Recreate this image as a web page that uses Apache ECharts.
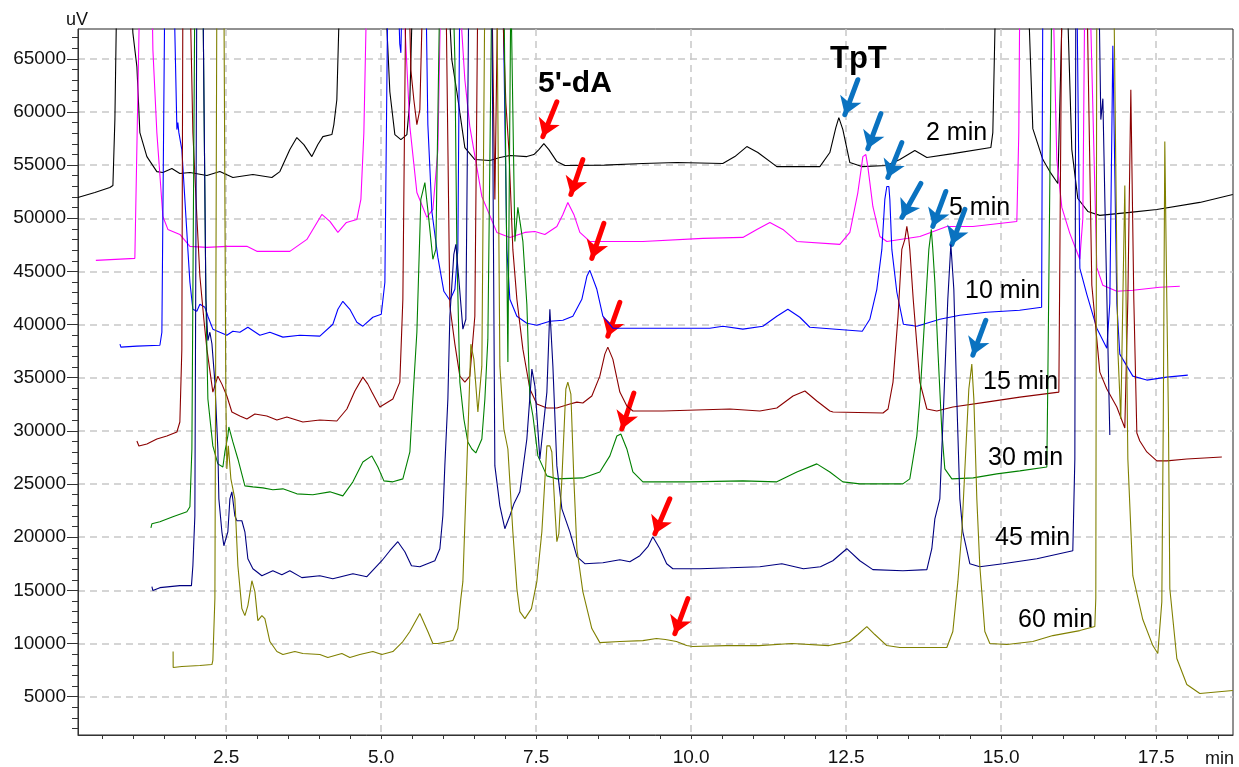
<!DOCTYPE html>
<html>
<head>
<meta charset="utf-8">
<script src="https://cdn.jsdelivr.net/npm/echarts@6/dist/echarts.min.js"></script>
<style>
  html, body { margin: 0; padding: 0; background: #ffffff; }
  #chart { width: 1239px; height: 767px; }
</style>
</head>
<body>
<div id="chart"></div>
<script>
// Stacked HPLC chromatograms (uV vs retention time in min), one trace per reaction time.
// Points above the plotted range are given as OFF and get clipped at the top border.
const OFF = 72000;

const xRange = [0.11, 18.74];
const yRange = [1400, 67800];

const xTickLabels = [2.5, 5, 7.5, 10, 12.5, 15, 17.5];
const xMinorTicks = [0.5, 1, 1.5, 2, 2.5, 3, 3.5, 4, 4.5, 5, 5.5, 6, 6.5, 7, 7.5, 8, 8.5, 9, 9.5,
  10, 10.5, 11, 11.5, 12, 12.5, 13, 13.5, 14, 14.5, 15, 15.5, 16, 16.5, 17, 17.5, 18, 18.5];
const yTickLabels = [5000, 10000, 15000, 20000, 25000, 30000, 35000, 40000, 45000, 50000, 55000, 60000, 65000];
const yMinorTicks = [2000, 3000, 4000, 5000, 6000, 7000, 8000, 9000, 10000, 11000, 12000, 13000, 14000,
  15000, 16000, 17000, 18000, 19000, 20000, 21000, 22000, 23000, 24000, 25000, 26000, 27000, 28000,
  29000, 30000, 31000, 32000, 33000, 34000, 35000, 36000, 37000, 38000, 39000, 40000, 41000, 42000,
  43000, 44000, 45000, 46000, 47000, 48000, 49000, 50000, 51000, 52000, 53000, 54000, 55000, 56000,
  57000, 58000, 59000, 60000, 61000, 62000, 63000, 64000, 65000, 66000, 67000];

const traceNames = ['2 min', '5 min', '10 min', '15 min', '30 min', '45 min', '60 min'];
const traceColors = ['#000000', '#ff00ff', '#0000ff', '#8b0000', '#008000', '#000080', '#808000'];

const trace2min = [[0.108,51950],[0.382,52420],[0.624,52890],[0.673,53080],[0.705,59280],[0.737,OFF],[0.963,OFF],
  [0.995,67440],[1.06,64250],[1.108,58050],[1.221,55800],[1.382,54390],[1.479,54300],[1.624,54680],[1.753,54210],
  [1.915,54300],[2.189,54020],[2.398,54390],[2.608,53830],[2.931,54110],[3.237,53830],[3.366,54390],[3.527,56460],
  [3.64,57590],[3.753,56930],[3.882,55800],[3.979,56930],[4.06,57680],[4.205,57870],[4.237,58810],[4.285,61150],
  [4.335,OFF],[5.06,OFF],[5.14,61900],[5.221,57870],[5.318,57400],[5.415,57870],[5.463,61150],[5.511,OFF],
  [6.076,OFF],[6.14,64900],[6.221,61900],[6.35,56650],[6.511,55520],[6.753,55430],[6.915,55710],[7.076,55900],
  [7.35,55800],[7.463,55990],[7.544,56460],[7.624,57020],[7.705,56460],[7.834,55330],[7.963,54960],[8.6,55000],
  [9.221,55150],[9.77,55240],[10.51,55150],[10.705,55800],[10.898,56740],[11.076,56180],[11.382,54860],
  [12.076,54860],[12.237,56180],[12.334,58520],[12.382,59460],[12.447,58340],[12.56,55240],[12.753,54860],
  [13.156,54960],[13.366,55520],[13.608,56370],[13.802,55710],[14.221,56080],[14.834,56650],[14.866,58050],
  [14.915,OFF],[15.431,OFF],[15.511,58430],[15.673,55520],[15.785,54390],[15.915,53270],[15.995,OFF],[16.06,OFF],
  [16.14,56460],[16.237,51860],[16.398,50640],[16.592,50270],[17.076,50550],[17.511,50830],[18.205,51490],[18.737,52240]];

const trace5min = [[0.398,46040],[1.027,46230],[1.044,46320],[1.108,OFF],[1.302,OFF],[1.318,65840],[1.382,58050],
  [1.479,50170],[1.56,48950],[1.753,48480],[1.915,47360],[2.189,47260],[2.511,47360],[2.834,47360],[2.995,46890],
  [3.527,46890],[3.802,48010],[4.043,50360],[4.173,49700],[4.302,48670],[4.44,49610],[4.608,49890],[4.673,51770],
  [4.721,58050],[4.769,OFF],[5.35,OFF],[5.463,58620],[5.576,52420],[5.737,50080],[5.834,50830],[5.915,56460],
  [5.963,OFF],[6.253,OFF],[6.35,63030],[6.43,58620],[6.624,52050],[6.866,48670],[7.076,48200],[7.318,48670],
  [7.48,48760],[7.64,48480],[7.834,49230],[7.931,50360],[8.011,51490],[8.108,50360],[8.205,48670],[8.366,47820],
  [9.221,47820],[10.189,48110],[10.834,48200],[11.06,48950],[11.27,49610],[11.48,48950],[11.705,47820],
  [12.398,47540],[12.56,48670],[12.689,52420],[12.77,55800],[12.818,55990],[12.85,54860],[12.931,51110],
  [13.044,48290],[13.156,47820],[13.689,48290],[14.124,49230],[14.544,49230],[15.253,49700],[15.285,58050],
  [15.302,OFF],[15.834,OFF],[15.898,55520],[15.979,51020],[16.108,48580],[16.269,46140],[16.318,50000],
  [16.35,OFF],[16.43,OFF],[16.543,45380],[16.64,43700],[16.866,43130],[17.124,43230],[17.56,43510],[17.882,43600]];

const trace10min = [[0.787,38160],[0.802,37880],[1.06,37970],[1.431,38060],[1.463,39280],[1.511,OFF],[1.656,OFF],
  [1.705,58340],[1.721,58990],[1.737,58050],[1.785,56460],[1.866,48670],[1.882,47070],[1.915,43980],[1.963,41440],
  [2.027,41260],[2.076,41910],[2.157,41630],[2.205,40790],[2.285,39570],[2.398,39280],[2.511,39000],[2.608,39380],
  [2.721,39280],[2.85,39750],[3.044,39000],[3.205,39280],[3.415,38820],[3.689,39000],[4.011,38910],[4.221,40030],
  [4.302,41440],[4.382,42190],[4.495,41440],[4.608,40220],[4.705,39850],[4.866,40690],[5.002,40970],[5.06,43980],
  [5.108,OFF],[5.27,OFF],[5.3,66400],[5.318,65560],[5.34,OFF],[5.721,OFF],[5.753,58810],[5.818,50640],
  [5.915,46320],[6.011,43130],[6.108,42290],[6.189,43320],[6.237,47070],[6.269,OFF],[6.963,OFF],[7.027,47070],
  [7.076,42380],[7.189,40790],[7.35,40130],[7.511,39940],[7.721,40320],[7.931,40410],[8.092,40790],[8.237,42380],
  [8.318,44540],[8.366,45100],[8.479,43320],[8.576,40790],[8.737,39660],[10.302,39660],[10.511,39850],
  [10.834,39570],[11.157,39850],[11.382,40790],[11.56,41440],[11.753,40690],[11.915,39750],[12.76,39380],
  [12.882,40500],[12.995,43320],[13.076,47070],[13.124,51770],[13.156,52990],[13.189,52990],[13.205,51770],
  [13.237,47070],[13.318,43040],[13.424,40030],[13.64,39850],[14.011,40500],[14.334,40880],[14.765,41160],
  [15.298,41350],[15.653,41630],[15.673,OFF],[16.221,OFF],[16.27,45290],[16.382,42850],[16.543,39660],
  [16.705,37780],[16.753,42000],[16.802,66220],[16.866,42000],[16.914,37220],[17.124,35150],[17.35,34780],
  [17.672,35060],[18.011,35250]];

const trace15min = [[1.06,29050],[1.092,28580],[1.221,28770],[1.382,29240],[1.543,29520],[1.705,29900],[1.753,30840],
  [1.785,37690],[1.802,OFF],[1.915,OFF],[1.963,58050],[2.027,50170],[2.076,44540],[2.14,40500],[2.189,37690],
  [2.285,33650],[2.366,35150],[2.431,34400],[2.511,33280],[2.592,31780],[2.721,31400],[2.834,31120],[2.963,31590],
  [3.156,31400],[3.318,31030],[3.479,31310],[3.737,30840],[4.011,31030],[4.285,30930],[4.447,32060],[4.576,33750],
  [4.705,35060],[4.785,34400],[4.85,33650],[4.979,32250],[5.189,33000],[5.301,34590],[5.35,42380],[5.399,OFF],
  [5.447,OFF],[5.479,63970],[5.527,61150],[5.576,58810],[5.624,60210],[5.673,OFF],[6.044,OFF],[6.108,41720],
  [6.189,38160],[6.269,35150],[6.35,34590],[6.43,35150],[6.511,40790],[6.56,OFF],[6.785,OFF],[6.834,51770],
  [6.882,OFF],[6.947,OFF],[7.011,60870],[7.06,56460],[7.124,47070],[7.189,42380],[7.286,37690],[7.399,33940],
  [7.511,32530],[7.673,32150],[7.834,32150],[8.044,32530],[8.157,32710],[8.253,32620],[8.398,33280],[8.527,35150],
  [8.608,37220],[8.656,37880],[8.737,36750],[8.85,33650],[8.963,32340],[9.06,31870],[9.544,31870],[10.624,32060],
  [11.108,31870],[11.382,32150],[11.643,33280],[11.835,33750],[12.027,32810],[12.237,31870],[12.289,31780],
  [13.095,31680],[13.176,32060],[13.256,34590],[13.337,40790],[13.398,47070],[13.447,48010],[13.479,49230],
  [13.511,48010],[13.527,47070],[13.582,42380],[13.689,34590],[13.802,32060],[13.963,31870],[14.221,32250],
  [14.76,32710],[15.302,33180],[15.931,33650],[15.98,OFF],[16.382,OFF],[16.463,43700],[16.592,35530],
  [16.705,33940],[16.866,32250],[16.995,30270],[17.044,42380],[17.092,62090],[17.14,42380],[17.189,29800],
  [17.237,29050],[17.35,28020],[17.511,27180],[17.672,27180],[17.995,27360],[18.56,27550]];

const trace30min = [[1.286,20890],[1.302,21260],[1.431,21450],[1.64,21920],[1.866,22390],[1.915,22860],[1.947,28300],
  [1.995,OFF],[2.124,OFF],[2.173,42380],[2.205,33000],[2.285,28590],[2.366,26900],[2.447,26610],[2.479,28020],
  [2.527,29520],[2.543,30370],[2.608,28960],[2.689,27360],[2.802,24830],[2.931,24740],[3.092,24640],[3.253,24460],
  [3.415,24550],[3.64,24080],[3.898,23990],[4.173,24270],[4.382,23890],[4.544,25210],[4.705,27080],[4.85,27650],
  [4.947,26610],[5.044,25300],[5.189,25210],[5.35,25490],[5.463,28020],[5.511,33000],[5.576,39280],[5.64,51770],
  [5.705,53360],[5.769,49890],[5.834,46140],[5.882,47070],[5.947,OFF],[6.157,OFF],[6.189,64900],[6.221,47070],
  [6.269,34590],[6.334,31120],[6.398,28960],[6.463,28300],[6.527,27930],[6.624,29240],[6.673,33000],[6.721,38630],
  [6.785,OFF],[6.979,OFF],[7.044,36470],[7.092,OFF],[7.124,OFF],[7.157,47820],[7.205,51020],[7.286,47820],
  [7.35,41910],[7.399,33000],[7.448,31400],[7.528,27650],[7.673,25770],[7.834,25490],[8.253,25580],[8.527,26140],
  [8.689,27650],[8.802,29520],[8.866,29710],[8.963,28300],[9.06,26140],[9.221,25210],[9.98,25210],[10.834,25300],
  [11.382,25210],[11.705,26140],[12.027,26900],[12.237,26140],[12.447,25210],[12.721,25020],[13.415,25020],
  [13.527,25490],[13.64,29520],[13.689,33000],[13.737,37690],[13.802,43980],[13.834,47070],[13.874,48950],
  [13.898,47070],[13.931,43980],[13.979,37690],[14.044,29900],[14.092,26430],[14.205,25490],[14.55,25580],
  [14.931,25960],[15.302,26240],[15.737,26610],[15.753,34590],[15.818,OFF]];

const trace45min = [[1.302,15350],[1.318,14980],[1.431,15260],[1.753,15450],[1.94,15450],[1.963,17320],[1.995,22020],
  [2.027,OFF],[2.124,OFF],[2.173,42380],[2.205,38500],[2.237,39280],[2.27,38200],[2.318,34590],[2.366,28300],
  [2.382,23610],[2.431,20510],[2.463,19200],[2.527,20510],[2.56,23610],[2.592,24270],[2.64,22020],[2.673,21550],
  [2.705,21450],[2.753,21550],[2.802,20510],[2.85,17980],[2.931,17040],[3.076,16380],[3.253,16850],[3.398,16480],
  [3.527,16850],[3.721,16200],[4.011,16380],[4.221,16100],[4.544,16570],[4.77,16290],[5.011,17790],[5.14,18730],
  [5.269,19580],[5.382,18640],[5.489,17320],[5.624,17230],[5.866,17790],[5.947,18920],[5.995,22020],[6.027,26710],
  [6.076,33000],[6.108,40790],[6.172,46600],[6.205,47540],[6.253,44260],[6.318,39570],[6.366,40500],[6.415,OFF],
  [6.785,OFF],[6.834,26710],[6.915,22950],[6.995,20800],[7.076,22020],[7.141,23140],[7.237,24270],[7.35,29240],
  [7.431,35810],[7.48,34220],[7.56,27360],[7.592,27360],[7.673,33650],[7.721,41440],[7.77,36090],[7.834,26710],
  [7.915,22670],[8.044,20510],[8.157,18170],[8.285,17510],[8.576,17600],[8.85,17890],[9.011,17700],[9.173,18260],
  [9.302,19110],[9.382,20040],[9.495,18920],[9.605,17510],[9.705,17040],[10.14,17040],[10.624,17130],[11.108,17230],
  [11.463,17510],[11.811,17040],[12.085,17230],[12.285,17790],[12.511,18920],[12.721,17790],[12.931,16950],
  [13.415,16850],[13.802,16950],[13.882,18920],[13.931,21730],[14.011,23610],[14.076,33000],[14.14,42380],
  [14.189,47540],[14.237,43320],[14.285,33000],[14.334,23610],[14.382,20510],[14.495,17510],[14.656,17230],
  [15.028,17510],[15.576,17980],[16.156,18730],[16.189,27360],[16.205,OFF],[16.576,OFF],[16.608,59280],
  [16.641,61250],[16.689,47070],[16.753,29620]];

const trace60min = [[1.644,9250],[1.645,7750],[1.785,7840],[2.076,7940],[2.27,8030],[2.285,8410],[2.318,14230],
  [2.35,OFF],[2.463,OFF],[2.495,33000],[2.511,26430],[2.535,28590],[2.576,25490],[2.64,23610],[2.689,17320],
  [2.753,13290],[2.802,12630],[2.85,13570],[2.915,15910],[2.963,14880],[3.011,12160],[3.076,12630],[3.124,12350],
  [3.205,10190],[3.318,9250],[3.415,8970],[3.608,9250],[3.737,9060],[4.011,8970],[4.14,8690],[4.366,9060],
  [4.495,8690],[4.656,8970],[4.866,9250],[5.011,8970],[5.189,9250],[5.35,10190],[5.463,11130],[5.624,12820],
  [5.753,11130],[5.834,10000],[5.915,10000],[6.157,10280],[6.237,11410],[6.285,14230],[6.318,15820],[6.382,26710],
  [6.447,38160],[6.495,36750],[6.56,31780],[6.624,36090],[6.673,OFF],[6.866,OFF],[6.915,36090],[6.979,30180],
  [7.044,28300],[7.124,20510],[7.189,15160],[7.237,13000],[7.318,12350],[7.424,13290],[7.511,15820],[7.592,20510],
  [7.673,28590],[7.721,28590],[7.753,28020],[7.802,22670],[7.834,19580],[7.866,20330],[7.915,25490],[7.979,33940],
  [8.011,34590],[8.06,33470],[8.108,25490],[8.157,18920],[8.253,14880],[8.398,11410],[8.527,10090],[8.85,10190],
  [9.221,10280],[9.44,10470],[9.585,10380],[9.763,10190],[9.927,9810],[10.024,9720],[10.56,9810],[11.092,9810],
  [11.624,10000],[12.221,9810],[12.55,10190],[12.689,10850],[12.834,11600],[12.963,10850],[13.156,9810],
  [13.366,9630],[14.124,9630],[14.221,11130],[14.302,15820],[14.366,20510],[14.431,28300],[14.479,33940],
  [14.527,36280],[14.56,32990],[14.608,23610],[14.656,17320],[14.737,11130],[14.818,10000],[15.092,9910],
  [15.511,10190],[15.834,10750],[16.269,11220],[16.511,11600],[16.527,14230],[16.543,OFF],[16.817,OFF],
  [16.882,37690],[16.93,31120],[16.995,53080],[17.044,27360],[17.124,16380],[17.285,12260],[17.447,9810],
  [17.527,9060],[17.592,13940],[17.616,31500],[17.64,57210],[17.672,42380],[17.698,31500],[17.721,15160],
  [17.834,8590],[17.995,6150],[18.205,5310],[18.737,5590]];

const traces = [trace2min, trace5min, trace10min, trace15min, trace30min, trace45min, trace60min];

// Arrows: [tail time, tail uV, head time, head uV]
const dAArrows = [[7.834,60960,7.608,57680],[8.253,55520,8.06,52240],[8.592,49520,8.398,46230],
  [8.85,42100,8.656,38910],[9.076,33560,8.882,30180],[9.656,23610,9.415,20330],[9.947,14230,9.737,10940]];
const tptArrows = [[12.689,63030,12.479,59740],[13.06,59840,12.85,56550],[13.398,57120,13.173,53830],
  [13.705,53270,13.4,50080],[14.108,52520,13.898,49230],[14.415,50830,14.205,47540],[14.753,40410,14.544,37130]];

// Trace labels: [left x, vertical centre] in pixels
const traceLabelPos = [[926,133],[949,208],[965,291],[983,382],[988,458],[995,538],[1018,620]];

const FONT = "'Liberation Sans', Arial, Helvetica, sans-serif";

function arrowData(list) {
  return list.map(a => [{ coord: [a[0], a[1]] }, { coord: [a[2], a[3]] }]);
}
function arrowSeries(list, color) {
  return {
    type: 'line', data: [], xAxisIndex: 0, yAxisIndex: 0, silent: true, animation: false,
    markLine: {
      silent: true, animation: false, symbol: ['none', 'arrow'], symbolSize: [17, 17],
      label: { show: false }, emphasis: { disabled: true },
      lineStyle: { color: color, width: 5, type: 'solid', cap: 'round' },
      data: arrowData(list)
    }
  };
}

const chart = echarts.init(document.getElementById('chart'), null, { renderer: 'canvas' });

const grid = { left: 78, right: 6, top: 29, bottom: 30, show: true, borderColor: '#222', borderWidth: 1, backgroundColor: 'transparent' };

const xBase = {
  type: 'value', min: xRange[0], max: xRange[1], position: 'bottom', gridIndex: 0
};
const yBase = {
  type: 'value', min: yRange[0], max: yRange[1], position: 'left', gridIndex: 0
};

const option = {
  animation: false,
  backgroundColor: '#ffffff',
  grid: grid,
  xAxis: [
    Object.assign({}, xBase, {
      axisLine: { show: true, onZero: false, lineStyle: { color: '#333', width: 1 } },
      axisTick: { show: true, length: 4, customValues: xMinorTicks, lineStyle: { color: '#333' } },
      axisLabel: { show: true, customValues: xTickLabels, margin: 13, color: '#111', fontSize: 19, fontFamily: FONT,
        formatter: v => v.toFixed(1) },
      splitLine: { show: false }
    }),
    Object.assign({}, xBase, {
      axisLine: { show: false },
      axisTick: { show: false, customValues: xTickLabels },
      axisLabel: { show: false },
      splitLine: { show: true, lineStyle: { color: '#c8c8c8', width: 1.5, type: [7, 5] } }
    })
  ],
  yAxis: [
    Object.assign({}, yBase, {
      axisLine: { show: true, onZero: false, lineStyle: { color: '#333', width: 1 } },
      axisTick: { show: true, length: 6, customValues: yMinorTicks, lineStyle: { color: '#333' } },
      axisLabel: { show: false },
      splitLine: { show: false }
    }),
    Object.assign({}, yBase, {
      axisLine: { show: false },
      axisTick: { show: true, length: 11, customValues: yTickLabels, lineStyle: { color: '#333' } },
      axisLabel: { show: true, customValues: yTickLabels, margin: 12, color: '#111', fontSize: 19, fontFamily: FONT,
        formatter: v => String(v) },
      splitLine: { show: true, lineStyle: { color: '#c8c8c8', width: 1.5, type: [7, 5] } }
    })
  ],
  series: traces.map((d, i) => ({
    name: traceNames[i], type: 'line', data: d, xAxisIndex: 0, yAxisIndex: 0,
    showSymbol: false, symbol: 'none', clip: true, silent: true, animation: false,
    lineStyle: { color: traceColors[i], width: 1.1 }, z: 3 + i
  })).concat([arrowSeries(dAArrows, '#ff0000'), arrowSeries(tptArrows, '#0a72c0')]),
  graphic: [
    { type: 'text', x: 66, y: 20, style: { text: 'uV', fill: '#111', font: '18px ' + FONT, verticalAlign: 'middle' } },
    { type: 'text', x: 1205, y: 759, style: { text: 'min', fill: '#111', font: '18px ' + FONT, verticalAlign: 'middle' } },
    { type: 'text', x: 538, y: 84, z: 20, style: { text: "5'-dA", fill: '#000', font: 'bold 30px ' + FONT, verticalAlign: 'middle' } },
    { type: 'text', x: 830, y: 59, z: 20, style: { text: 'TpT', fill: '#000', font: 'bold 31px ' + FONT, verticalAlign: 'middle' } }
  ].concat(traceNames.map((n, i) => ({
    type: 'text', x: traceLabelPos[i][0], y: traceLabelPos[i][1], z: 20,
    style: { text: n, fill: '#000', font: '25px ' + FONT, verticalAlign: 'middle' }
  })))
};

chart.setOption(option);
</script>
</body>
</html>
